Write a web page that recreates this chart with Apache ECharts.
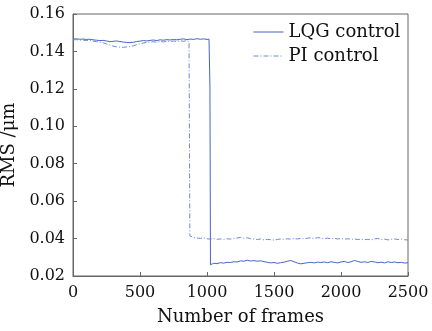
<!DOCTYPE html>
<html>
<head>
<meta charset="utf-8">
<script src="https://cdn.jsdelivr.net/npm/echarts@6/dist/echarts.min.js"></script>
<style>
  html, body { margin: 0; padding: 0; background: #fff; }
  #chart { width: 432px; height: 331px; }
</style>
</head>
<body>
<div id="chart"></div>
<script>
// RMS residual (µm) per frame for the two controllers
const lqgFrames = [0,25,50,75,100,125,150,175,200,225,250,275,300,325,350,375,400,425,450,475,500,525,550,575,600,625,650,675,700,725,750,775,800,825,850,875,900,925,950,975,1000,1015,1020,1022,1026,1035,
  1050,1075,1100,1125,1150,1175,1200,1225,1250,1275,1300,1325,1350,1375,1400,1425,1450,1475,1500,1525,1550,1575,1600,1625,1650,1675,1700,1725,1750,1775,1800,1825,1850,1875,1900,1925,1950,1975,2000,2025,2050,2075,2100,2125,2150,2175,2200,2225,2250,2275,2300,2325,2350,2375,2400,2425,2450,2475,2500];
const lqgRms = [0.1466,0.1467,0.1465,0.1466,0.1464,0.1465,0.1462,0.1460,0.1458,0.1459,0.1456,0.1452,0.1454,0.1456,0.1453,0.1450,0.1448,0.1447,0.1449,0.1453,0.1455,0.1458,0.1456,0.1459,0.1461,0.1458,0.1462,0.1460,0.1463,0.1461,0.1464,0.1462,0.1465,0.1467,0.1463,0.1466,0.1464,0.1468,0.1465,0.1467,0.1464,0.1466,0.1466,0.1210,0.0260,0.0262,
  0.0268,0.0266,0.0271,0.0269,0.0273,0.0272,0.0276,0.0275,0.0281,0.0279,0.0284,0.0280,0.0282,0.0279,0.0281,0.0277,0.0273,0.0270,0.0272,0.0268,0.0271,0.0274,0.0279,0.0283,0.0276,0.0269,0.0265,0.0268,0.0271,0.0273,0.0270,0.0274,0.0272,0.0275,0.0271,0.0276,0.0273,0.0270,0.0275,0.0278,0.0272,0.0276,0.0283,0.0278,0.0273,0.0276,0.0272,0.0278,0.0275,0.0271,0.0274,0.0270,0.0276,0.0272,0.0275,0.0271,0.0273,0.0269,0.0271];

const piFrames = [0,25,50,75,100,125,150,175,200,225,250,275,300,325,350,375,400,425,450,475,500,525,550,575,600,625,650,675,700,725,750,775,800,825,850,860,866,872,
  900,925,950,975,1000,1025,1050,1075,1100,1125,1150,1175,1200,1225,1250,1275,1300,1325,1350,1375,1400,1425,1450,1475,1500,1525,1550,1575,1600,1625,1650,1675,1700,1725,1750,1775,1800,1825,1850,1875,1900,1925,1950,1975,2000,2025,2050,2075,2100,2125,2150,2175,2200,2225,2250,2275,2300,2325,2350,2375,2400,2425,2450,2475,2500];
const piRms = [0.1462,0.1463,0.1460,0.1461,0.1458,0.1459,0.1455,0.1452,0.1450,0.1446,0.1440,0.1434,0.1428,0.1425,0.1423,0.1422,0.1424,0.1426,0.1430,0.1436,0.1441,0.1445,0.1448,0.1450,0.1452,0.1449,0.1453,0.1451,0.1455,0.1452,0.1456,0.1453,0.1457,0.1454,0.1458,0.1452,0.1450,0.0415,
  0.0405,0.0403,0.0401,0.0404,0.0399,0.0397,0.0400,0.0396,0.0398,0.0395,0.0399,0.0397,0.0401,0.0403,0.0406,0.0402,0.0404,0.0400,0.0397,0.0395,0.0398,0.0393,0.0396,0.0394,0.0392,0.0395,0.0398,0.0396,0.0399,0.0397,0.0400,0.0398,0.0401,0.0399,0.0402,0.0404,0.0401,0.0405,0.0403,0.0400,0.0402,0.0399,0.0401,0.0398,0.0400,0.0397,0.0399,0.0396,0.0398,0.0395,0.0397,0.0394,0.0396,0.0393,0.0398,0.0401,0.0394,0.0397,0.0393,0.0396,0.0398,0.0395,0.0397,0.0394,0.0392];

const seriesNames = ['LQG control', 'PI control'];
const xTicks = [0, 500, 1000, 1500, 2000, 2500];
const yTicks = [0.02, 0.04, 0.06, 0.08, 0.10, 0.12, 0.14, 0.16];

const zip = (xs, ys) => xs.map((x, i) => [x, ys[i]]);
const FONT = 'DejaVu Serif';
const axisGray = '#666';

const chart = echarts.init(document.getElementById('chart'), null, { renderer: 'canvas' });
chart.setOption({
  animation: false,
  backgroundColor: '#fff',
  textStyle: { fontFamily: FONT, color: '#111' },
  grid: {
    left: 73, right: 24, top: 14, bottom: 55,
    show: true, borderColor: axisGray, borderWidth: 1,
    containLabel: false, outerBoundsMode: 'none'
  },
  legend: {
    orient: 'vertical', left: 248, top: 18, itemWidth: 30, itemHeight: 12, itemGap: 6,
    itemStyle: { opacity: 0 },
    lineStyle: { width: 1 },
    textStyle: { fontFamily: FONT, fontSize: 18, color: '#111' },
    data: seriesNames
  },
  xAxis: {
    type: 'value', min: xTicks[0], max: xTicks[xTicks.length - 1], interval: 500,
    name: 'Number of frames', nameLocation: 'middle', nameGap: 32,
    nameTextStyle: { fontFamily: FONT, fontSize: 18, color: '#111' },
    axisLine: { lineStyle: { color: axisGray } },
    axisTick: { inside: true, length: 4, lineStyle: { color: axisGray } },
    axisLabel: { fontFamily: FONT, fontSize: 16, color: '#111', margin: 9, formatter: v => String(v) },
    splitLine: { show: false }
  },
  yAxis: {
    type: 'value', min: yTicks[0], max: yTicks[yTicks.length - 1], interval: 0.02,
    name: 'RMS /μm', nameLocation: 'middle', nameGap: 49,
    nameTextStyle: { fontFamily: FONT, fontSize: 18, color: '#111' },
    axisLine: { lineStyle: { color: axisGray } },
    axisTick: { inside: true, length: 4, lineStyle: { color: axisGray } },
    axisLabel: { fontFamily: FONT, fontSize: 16, color: '#111', margin: 8, formatter: v => v.toFixed(2) },
    splitLine: { show: false }
  },
  series: [
    {
      name: seriesNames[0], type: 'line', data: zip(lqgFrames, lqgRms),
      showSymbol: false, symbol: 'none', color: '#4565c8',
      lineStyle: { width: 1, color: '#4565c8' }
    },
    {
      name: seriesNames[1], type: 'line', data: zip(piFrames, piRms),
      showSymbol: false, symbol: 'none', color: '#6d88d8',
      lineStyle: { width: 1, color: '#6d88d8', type: [5, 2, 1, 2] }
    }
  ]
});
</script>
</body>
</html>
